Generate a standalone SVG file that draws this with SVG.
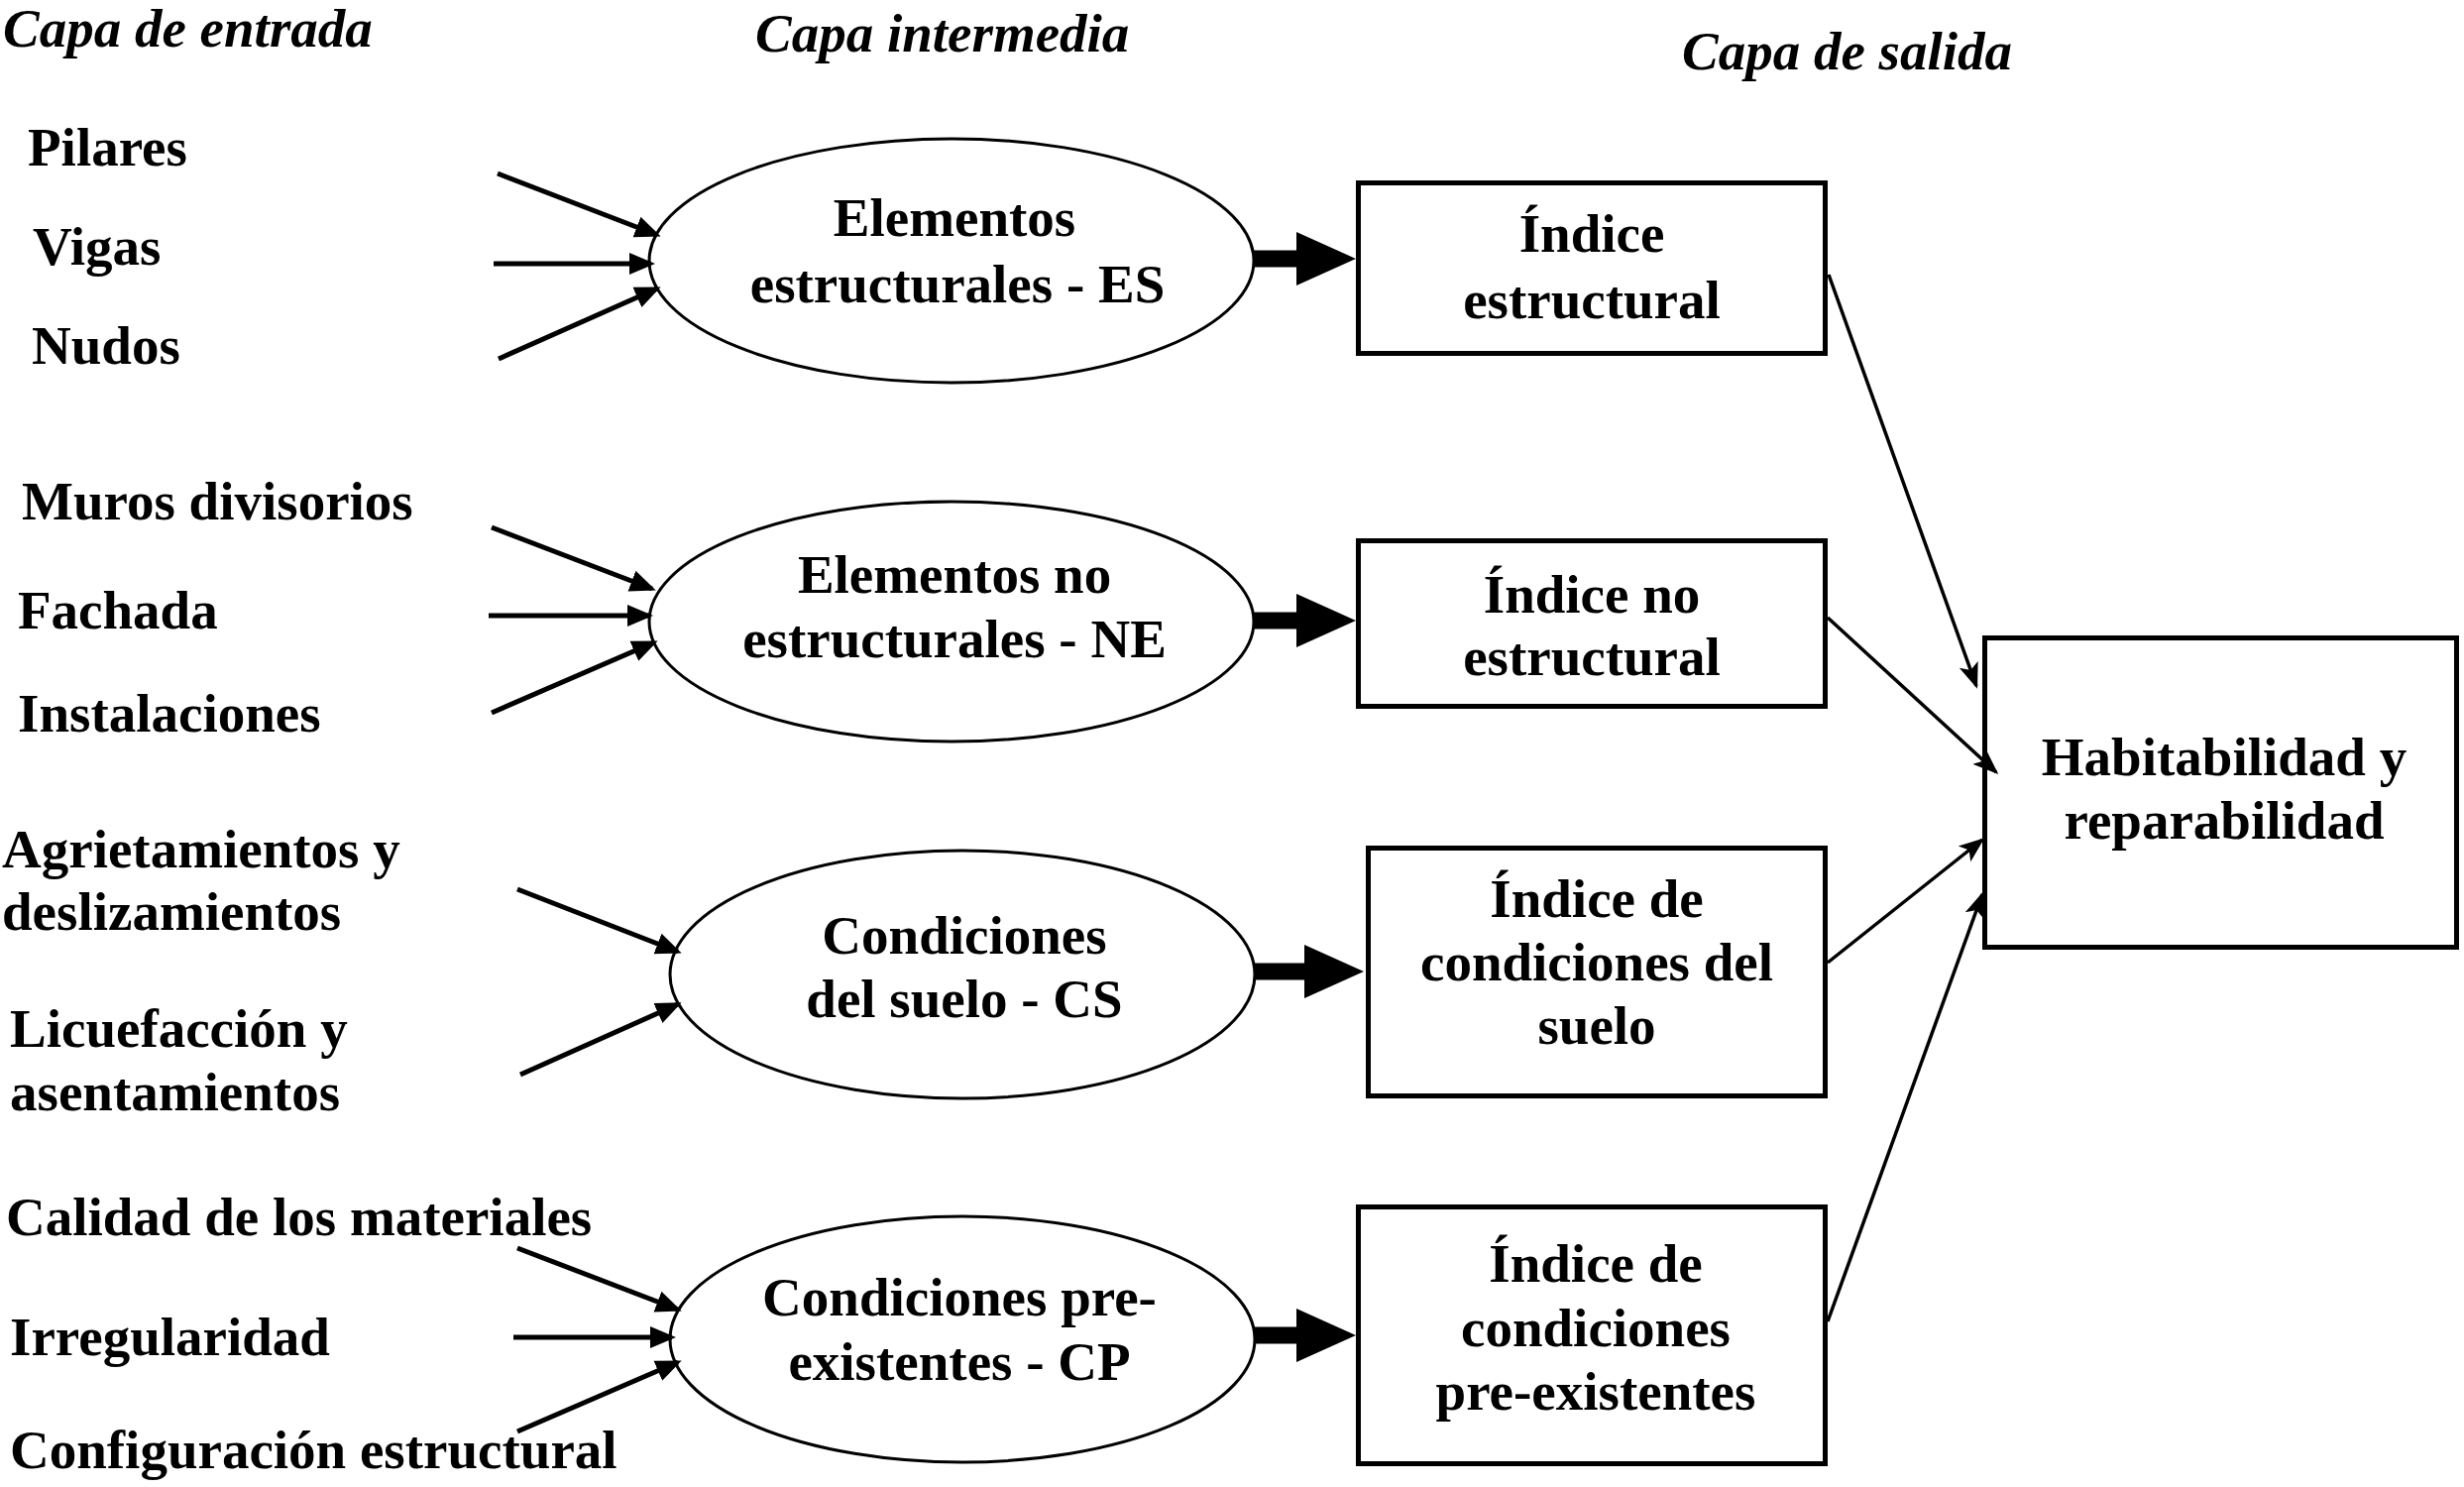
<svg xmlns="http://www.w3.org/2000/svg" width="2486" height="1500" viewBox="0 0 2486 1500">
<style>
text{font-family:"Liberation Serif","Times New Roman",serif;font-weight:bold;font-size:55px;fill:#000}
.t{font-style:italic}
.c{text-anchor:middle}
.el{fill:#fff;stroke:#000;stroke-width:3}
.bx{fill:#fff;stroke:#000;stroke-width:5}
.in{stroke:#000;stroke-width:5;fill:none;marker-end:url(#ah)}
.out{stroke:#000;stroke-width:3.5;fill:none;marker-end:url(#ah2)}
.big{fill:#000}
</style>
<defs>
<marker id="ah" markerUnits="userSpaceOnUse" markerWidth="26" markerHeight="24" refX="22" refY="12" orient="auto" viewBox="0 0 26 24"><path d="M0,1 L26,12 L0,23 z" fill="#000"/></marker>
<marker id="ah2" markerUnits="userSpaceOnUse" markerWidth="26" markerHeight="22" refX="23" refY="11" orient="auto" viewBox="0 0 26 22"><path d="M0,1 L26,11 L0,21 L6,11 z" fill="#000"/></marker>
</defs>
<rect width="2486" height="1500" fill="#fff"/>

<g id="titles">
<text class="t" x="3" y="47">Capa de entrada</text>
<text class="t" x="762" y="52">Capa intermedia</text>
<text class="t" x="1697" y="70">Capa de salida</text>
</g>

<g id="in-pilares"><text x="28" y="167">Pilares</text></g>
<g id="in-vigas"><text x="33" y="267">Vigas</text></g>
<g id="in-nudos"><text x="32" y="367">Nudos</text></g>
<g id="in-muros"><text x="22" y="524">Muros divisorios</text></g>
<g id="in-fachada"><text x="18" y="634">Fachada</text></g>
<g id="in-instalaciones"><text x="18" y="738">Instalaciones</text></g>
<g id="in-agrietamientos"><text x="2" y="875">Agrietamientos y</text><text x="2" y="938">deslizamientos</text></g>
<g id="in-licuefaccion"><text x="10" y="1056">Licuefacción y</text><text x="10" y="1120">asentamientos</text></g>
<g id="in-calidad"><text x="6" y="1246">Calidad de los materiales</text></g>
<g id="in-irregularidad"><text x="10" y="1367">Irregularidad</text></g>
<g id="in-configuracion"><text x="10" y="1481">Configuración estructural</text></g>

<g id="node-ES"><ellipse class="el" cx="960" cy="263" rx="305" ry="123"/><text class="c" x="963" y="238">Elementos</text><text class="c" x="966" y="305">estructurales - ES</text></g>
<g id="node-NE"><ellipse class="el" cx="960" cy="627" rx="305" ry="121"/><text class="c" x="963" y="598">Elementos no</text><text class="c" x="963" y="663">estructurales - NE</text></g>
<g id="node-CS"><ellipse class="el" cx="971" cy="983" rx="295" ry="125"/><text class="c" x="973" y="962">Condiciones</text><text class="c" x="973" y="1026">del suelo - CS</text></g>
<g id="node-CP"><ellipse class="el" cx="971" cy="1351" rx="295" ry="124"/><text class="c" x="968" y="1327">Condiciones pre-</text><text class="c" x="968" y="1392">existentes - CP</text></g>

<g id="box-IE"><rect class="bx" x="1370.5" y="184.5" width="471" height="172"/><text class="c" x="1606" y="254">Índice</text><text class="c" x="1606" y="321">estructural</text></g>
<g id="box-INE"><rect class="bx" x="1370.5" y="545.5" width="471" height="167"/><text class="c" x="1606" y="618">Índice no</text><text class="c" x="1606" y="681">estructural</text></g>
<g id="box-ICS"><rect class="bx" x="1380.5" y="855.5" width="461" height="250"/><text class="c" x="1611" y="925">Índice de</text><text class="c" x="1611" y="989">condiciones del</text><text class="c" x="1611" y="1053">suelo</text></g>
<g id="box-ICP"><rect class="bx" x="1370.5" y="1217.5" width="471" height="259"/><text class="c" x="1610" y="1293">Índice de</text><text class="c" x="1610" y="1358">condiciones</text><text class="c" x="1610" y="1422">pre-existentes</text></g>
<g id="box-HR"><rect class="bx" x="2002.5" y="643.5" width="476" height="312"/><text class="c" x="2244" y="782">Habitabilidad y</text><text class="c" x="2244" y="846">reparabilidad</text></g>

<g id="connectors">
<line class="in" x1="502" y1="175" x2="663" y2="237"/>
<line class="in" x1="498" y1="266" x2="657" y2="266"/>
<line class="in" x1="503" y1="362" x2="663" y2="291"/>
<line class="in" x1="496" y1="532" x2="658" y2="594"/>
<line class="in" x1="493" y1="621" x2="655" y2="621"/>
<line class="in" x1="496" y1="719" x2="660" y2="648"/>
<line class="in" x1="522" y1="897" x2="684" y2="960"/>
<line class="in" x1="525" y1="1084" x2="684" y2="1013"/>
<line class="in" x1="522" y1="1259" x2="684" y2="1321"/>
<line class="in" x1="518" y1="1349" x2="678" y2="1349"/>
<line class="in" x1="522" y1="1444" x2="684" y2="1374"/>
<path class="big" d="M1265,252.5 H1308 V234 L1368,261 L1308,288 V269.5 H1265 z"/>
<path class="big" d="M1265,617.5 H1308 V599 L1368,626 L1308,653 V634.5 H1265 z"/>
<path class="big" d="M1265,971.5 H1316 V953 L1376,980 L1316,1007 V988.5 H1265 z"/>
<path class="big" d="M1265,1338.5 H1308 V1320 L1368,1347 L1308,1374 V1355.5 H1265 z"/>
<line class="out" x1="1845" y1="277" x2="1994" y2="692"/>
<line class="out" x1="1844" y1="623" x2="2014" y2="779"/>
<line class="out" x1="1844" y1="971" x2="2000" y2="847"/>
<line class="out" x1="1844" y1="1333" x2="2000" y2="902"/>
</g>
</svg>
